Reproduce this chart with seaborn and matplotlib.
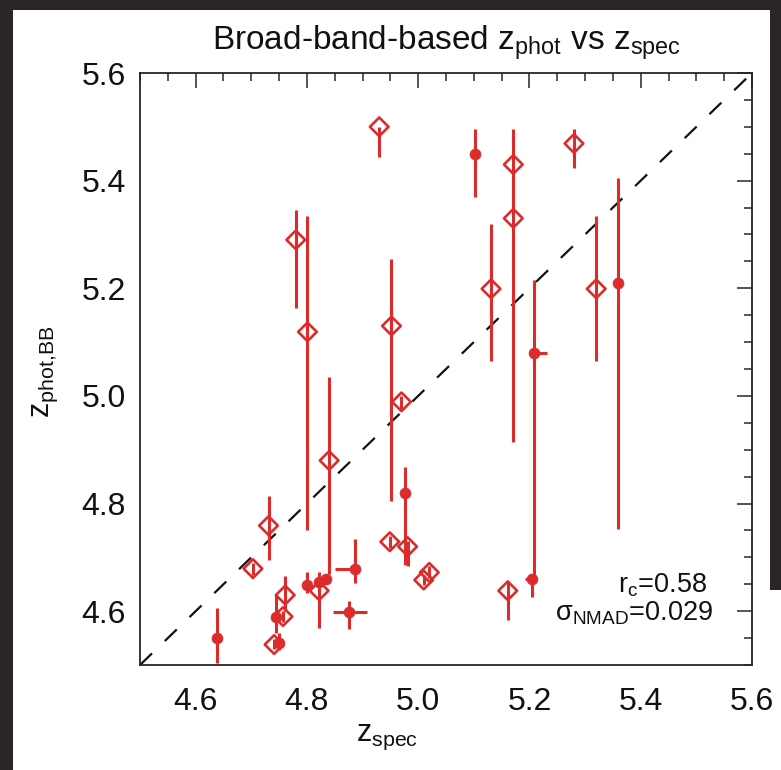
import numpy as np
import pandas as pd
import seaborn as sns
import matplotlib
matplotlib.use("Agg")
import matplotlib.pyplot as plt
from matplotlib.ticker import MultipleLocator, FixedLocator
from matplotlib.patches import Rectangle

# ---------------- data ----------------
# open diamonds
open_x    = [4.930, 4.780, 4.801, 4.952, 5.171, 5.171, 5.280, 5.131, 5.320, 4.970, 4.840,
             4.949, 4.981, 4.731, 4.703, 4.761, 4.822, 4.757, 4.741, 5.020, 5.010, 5.161]
open_y    = [5.500, 5.290, 5.119, 5.130, 5.430, 5.330, 5.469, 5.199, 5.199, 4.989, 4.880,
             4.729, 4.720, 4.759, 4.679, 4.630, 4.638, 4.590, 4.538, 4.672, 4.658, 4.638]
open_ylo  = [5.444, 5.163, 4.751, 4.805, 5.330, 4.915, 5.423, 5.065, 5.065, 4.975, 4.670,
             4.718, 4.684, 4.695, 4.668, 4.600, 4.568, 4.580, 4.530, 4.662, 4.648, 4.584]
open_yhi  = [5.500, 5.345, 5.335, 5.254, 5.496, 5.430, 5.496, 5.319, 5.335, 5.000, 5.036,
             4.740, 4.730, 4.814, 4.690, 4.665, 4.650, 4.600, 4.548, 4.684, 4.668, 4.655]

# filled circles
fill_x    = [5.102, 5.359, 5.209, 5.204, 4.977, 4.886, 4.875, 4.801, 4.821, 4.834, 4.639, 4.744, 4.749]
fill_y    = [5.449, 5.209, 5.079, 4.659, 4.819, 4.679, 4.599, 4.649, 4.655, 4.659, 4.550, 4.589, 4.540]
fill_ylo  = [5.370, 4.752, 4.660, 4.627, 4.686, 4.652, 4.567, 4.633, 4.640, 4.650, 4.503, 4.560, 4.528]
fill_yhi  = [5.496, 5.405, 5.215, 4.670, 4.867, 4.734, 4.619, 4.673, 4.673, 4.670, 4.605, 4.630, 4.560]
fill_xlo  = [5.102, 5.359, 5.209, 5.192, 4.977, 4.850, 4.847, 4.801, 4.821, 4.834, 4.639, 4.744, 4.749]
fill_xhi  = [5.102, 5.359, 5.231, 5.204, 4.977, 4.886, 4.908, 4.801, 4.821, 4.834, 4.639, 4.744, 4.749]

one_to_one = [4.5, 5.6]
axis_lim = [4.5, 5.6]
tick_vals = [4.6, 4.8, 5.0, 5.2, 5.4, 5.6]
tick_labels = ["4.6", "4.8", "5.0", "5.2", "5.4", "5.6"]

title_text = r"Broad-band-based z$_{\mathrm{phot}}$ vs z$_{\mathrm{spec}}$"
xlabel_text = r"z$_{\mathrm{spec}}$"
ylabel_text = r"z$_{\mathrm{phot{,}BB}}$"
stat1_text = r"r$_{\mathrm{c}}$=0.58"
stat2_text = r"σ$_{\mathrm{NMAD}}$=0.029"

# ---------------- styling ----------------
sns.set_style("white")
plt.rcParams["font.family"] = ["Liberation Sans", "DejaVu Sans"]
plt.rcParams["mathtext.fontset"] = "custom"
plt.rcParams["mathtext.rm"] = "Liberation Sans"
plt.rcParams["mathtext.it"] = "Liberation Sans:italic"
plt.rcParams["mathtext.bf"] = "Liberation Sans:bold"

RED = "#dc2b2b"
EDGE = "#262626"
TXT = "#111111"

df_open = pd.DataFrame({"x": open_x, "y": open_y})
df_fill = pd.DataFrame({"x": fill_x, "y": fill_y})

fig = plt.figure(figsize=(7.81, 7.70), dpi=100, facecolor="white")
# dark slide borders
fig.patches.append(Rectangle((0, 0), 13 / 781, 1, transform=fig.transFigure,
                             facecolor="#2a2626", edgecolor="none", zorder=-10))
fig.patches.append(Rectangle((0, 1 - 10 / 770), 1, 10 / 770, transform=fig.transFigure,
                             facecolor="#2a2626", edgecolor="none", zorder=-10))
fig.patches.append(Rectangle((770 / 781, 180 / 770), 11 / 781, 590 / 770, transform=fig.transFigure,
                             facecolor="#2a2626", edgecolor="none", zorder=-10))

ax = fig.add_axes([140 / 781, 105 / 770, 612 / 781, 592 / 770])

# 1:1 line
ax.plot(one_to_one, one_to_one, color=TXT, lw=1.6, ls=(0, (7.5, 8)), zorder=1)

# error bars
oy = np.array(open_y)
ax.errorbar(open_x, open_y, yerr=[oy - np.array(open_ylo), np.array(open_yhi) - oy],
            fmt="none", ecolor=RED, elinewidth=2.2, capsize=0, zorder=2)
fy = np.array(fill_y)
fx = np.array(fill_x)
ax.errorbar(fill_x, fill_y, yerr=[fy - np.array(fill_ylo), np.array(fill_yhi) - fy],
            xerr=[fx - np.array(fill_xlo), np.array(fill_xhi) - fx],
            fmt="none", ecolor=RED, elinewidth=2.2, capsize=0, zorder=2)

# markers
sns.scatterplot(data=df_open, x="x", y="y", marker="D", s=90, facecolor="none",
                edgecolor=RED, linewidth=1.9, ax=ax, zorder=3, legend=False)
sns.scatterplot(data=df_fill, x="x", y="y", marker="o", s=62, color=RED,
                edgecolor=RED, linewidth=0.5, ax=ax, zorder=3, legend=False)

ax.set_xlim(axis_lim)
ax.set_ylim(axis_lim)
ax.xaxis.set_major_locator(FixedLocator(tick_vals))
ax.yaxis.set_major_locator(FixedLocator(tick_vals))
ax.set_xticklabels(tick_labels)
ax.set_yticklabels(tick_labels)
ax.xaxis.set_minor_locator(MultipleLocator(0.05))
ax.yaxis.set_minor_locator(MultipleLocator(0.05))
ax.tick_params(which="both", direction="in", top=True, right=True, color=EDGE, width=1.1)
ax.tick_params(which="major", length=11)
ax.tick_params(which="minor", length=6)
ax.tick_params(axis="x", which="major", labelsize=23, pad=16, labelcolor=TXT)
ax.tick_params(axis="y", which="major", labelsize=23, pad=10, labelcolor=TXT)
for sp in ax.spines.values():
    sp.set_visible(True)
    sp.set_color(EDGE)
    sp.set_linewidth(1.3)

ax.set_title(title_text, fontsize=24, pad=17, color=TXT)
ax.set_xlabel(xlabel_text, fontsize=22, color=TXT)
ax.set_ylabel(ylabel_text, fontsize=22, color=TXT)
ax.xaxis.set_label_coords(0.404, -0.096)
ax.yaxis.set_label_coords(-0.13, 0.495)

ax.text(0.926, 0.123, stat1_text, transform=ax.transAxes, ha="right", va="baseline",
        fontsize=19.5, color=TXT)
ax.text(0.936, 0.076, stat2_text, transform=ax.transAxes, ha="right", va="baseline",
        fontsize=19.5, color=TXT)

fig.savefig("out.png", dpi=100, facecolor=fig.get_facecolor())
